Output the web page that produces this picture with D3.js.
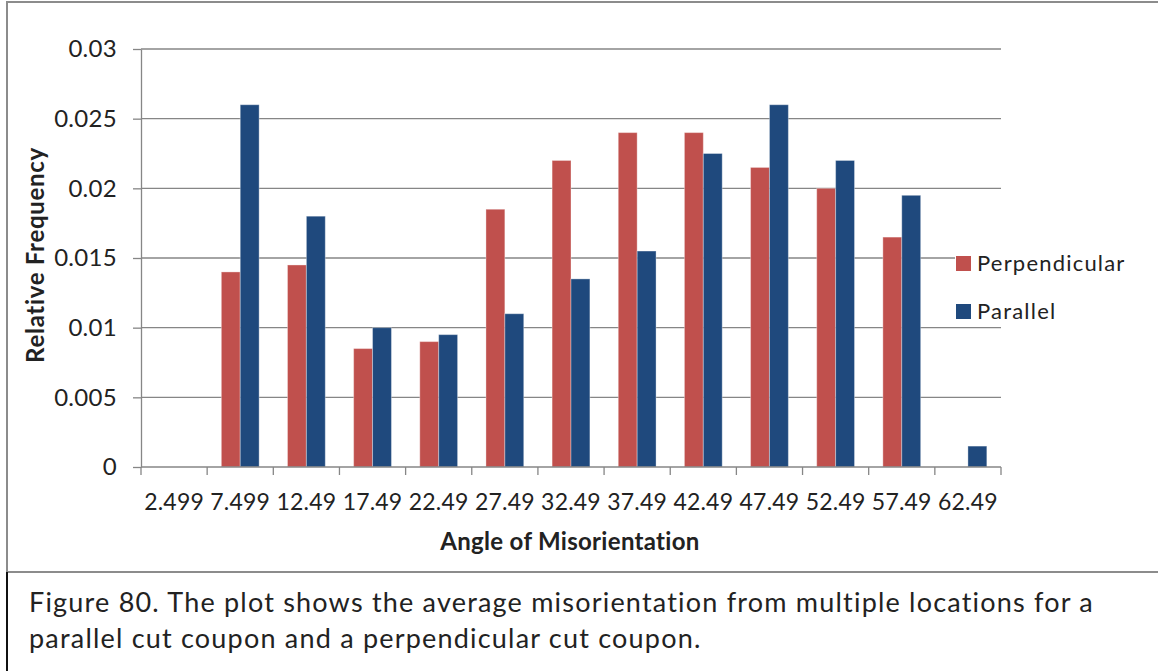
<!DOCTYPE html>
<html>
<head>
<meta charset="utf-8">
<script src="https://cdn.jsdelivr.net/npm/d3@7/dist/d3.min.js"></script>
<style>
  html, body { margin: 0; padding: 0; background: #fff; }
  svg { display: block; }
  text { font-family: Lato, "Open Sans", sans-serif; fill: #222; }
</style>
</head>
<body>
<svg id="chart" width="1158" height="671"></svg>
<script>
// Misorientation angle bins (upper edges, degrees)
const categories = ["2.499", "7.499", "12.49", "17.49", "22.49", "27.49", "32.49",
                    "37.49", "42.49", "47.49", "52.49", "57.49", "62.49"];
const seriesNames = ["Perpendicular", "Parallel"];
const perpendicular = [0, 0.014, 0.0145, 0.0085, 0.009, 0.0185, 0.022,
                       0.024, 0.024, 0.0215, 0.020, 0.0165, 0];
const parallel = [0, 0.026, 0.018, 0.010, 0.0095, 0.011, 0.0135,
                  0.0155, 0.0225, 0.026, 0.022, 0.0195, 0.0015];
const yTicks = [0, 0.005, 0.01, 0.015, 0.02, 0.025, 0.03];
const yTickLabels = ["0", "0.005", "0.01", "0.015", "0.02", "0.025", "0.03"];
const colors = ["#C0504D", "#1F497D"];

const svg = d3.select("#chart");

// Outer frame of the chart and the caption box beneath it
svg.append("rect").attr("x", 7).attr("y", 2).attr("width", 1160).attr("height", 570)
  .attr("fill", "#fff").attr("stroke", "#8c8c8c").attr("stroke-width", 2);
svg.append("line").attr("x1", 7).attr("x2", 7).attr("y1", 572).attr("y2", 671)
  .attr("stroke", "#111").attr("stroke-width", 2);

const plot = { left: 141, right: 1001, top: 49, bottom: 467 };

const x = d3.scaleBand().domain(categories).range([plot.left, plot.right])
  .paddingInner(0).paddingOuter(0);
const xInner = d3.scaleBand().domain(seriesNames).range([0, x.bandwidth()])
  .paddingInner(0).paddingOuter(0.75);
const y = d3.scaleLinear().domain([0, 0.03]).range([plot.bottom, plot.top]);

// Horizontal gridlines
svg.append("g").selectAll("line").data(yTicks.slice(1)).join("line")
  .attr("x1", plot.left).attr("x2", plot.right)
  .attr("y1", d => y(d)).attr("y2", d => y(d))
  .attr("stroke", "#868686").attr("stroke-width", 1.3);

// Y axis
const yAxis = svg.append("g").attr("transform", `translate(${plot.left},0)`)
  .call(d3.axisLeft(y).tickValues(yTicks)
    .tickFormat((d, i) => yTickLabels[i]).tickSize(8).tickPadding(16).tickSizeOuter(0));
yAxis.select(".domain").attr("stroke", "#868686").attr("stroke-width", 1.3);
yAxis.selectAll(".tick line").attr("stroke", "#868686").attr("stroke-width", 1.3);
yAxis.selectAll(".tick text").attr("font-size", 24).attr("fill", "#222")
  .attr("letter-spacing", 0.3).attr("font-family", "Lato, sans-serif");

// Bars
const groups = svg.append("g").selectAll("g").data(categories).join("g")
  .attr("transform", d => `translate(${x(d)},0)`);
groups.selectAll("rect")
  .data((d, i) => [perpendicular[i], parallel[i]].map((v, k) => ({ key: seriesNames[k], v, k })))
  .join("rect")
  .attr("x", d => xInner(d.key))
  .attr("width", xInner.bandwidth())
  .attr("y", d => y(d.v))
  .attr("height", d => y(0) - y(d.v))
  .attr("fill", d => colors[d.k])
  .attr("stroke", d => d.v > 0 ? "rgba(255,255,255,0.35)" : "none")
  .attr("stroke-width", 1);

// X axis line, boundary ticks and category labels
const xAxis = svg.append("g");
xAxis.append("line").attr("x1", plot.left).attr("x2", plot.right)
  .attr("y1", plot.bottom).attr("y2", plot.bottom)
  .attr("stroke", "#868686").attr("stroke-width", 1.3);
const boundaries = categories.map(c => x(c)).concat([x(categories[categories.length - 1]) + x.bandwidth()]);
xAxis.selectAll("line.tick").data(boundaries).join("line").attr("class", "tick")
  .attr("x1", d => d).attr("x2", d => d)
  .attr("y1", plot.bottom).attr("y2", plot.bottom + 8)
  .attr("stroke", "#868686").attr("stroke-width", 1.3);
xAxis.selectAll("text").data(categories).join("text")
  .attr("x", d => x(d) + x.bandwidth() / 2).attr("y", 510)
  .attr("text-anchor", "middle").attr("font-size", 23).attr("letter-spacing", 0.2).text(d => d);

// Axis titles
svg.append("text").attr("x", 570).attr("y", 550).attr("text-anchor", "middle")
  .attr("font-size", 24).attr("font-weight", "bold").attr("letter-spacing", 0.3)
  .attr("fill", "#111").text("Angle of Misorientation");
svg.append("text").attr("transform", "translate(44,255) rotate(-90)")
  .attr("text-anchor", "middle").attr("font-size", 24).attr("font-weight", "bold")
  .attr("letter-spacing", 0.7).attr("fill", "#111").text("Relative Frequency");

// Legend
const legend = svg.append("g");
legend.append("rect").attr("x", 955).attr("y", 245).attr("width", 190).attr("height", 78)
  .attr("fill", "#fff");
const legendRows = [{ name: "Perpendicular", y: 263 }, { name: "Parallel", y: 311 }];
legendRows.forEach((r, k) => {
  legend.append("rect").attr("x", 956).attr("y", r.y - 7).attr("width", 15).attr("height", 15)
    .attr("fill", colors[k]);
  legend.append("text").attr("x", 977).attr("y", r.y + 8).attr("font-size", 22)
    .attr("letter-spacing", 1.2).text(r.name);
});

// Figure caption
const caption = [
  "Figure 80. The plot shows the average misorientation from multiple locations for a",
  "parallel cut coupon and a perpendicular cut coupon."
];
svg.append("g").selectAll("text").data(caption).join("text")
  .attr("x", 29).attr("y", (d, i) => 612 + i * 36)
  .attr("font-size", 27).attr("letter-spacing", 1.2).attr("fill", "#000").text(d => d);
</script>
</body>
</html>
